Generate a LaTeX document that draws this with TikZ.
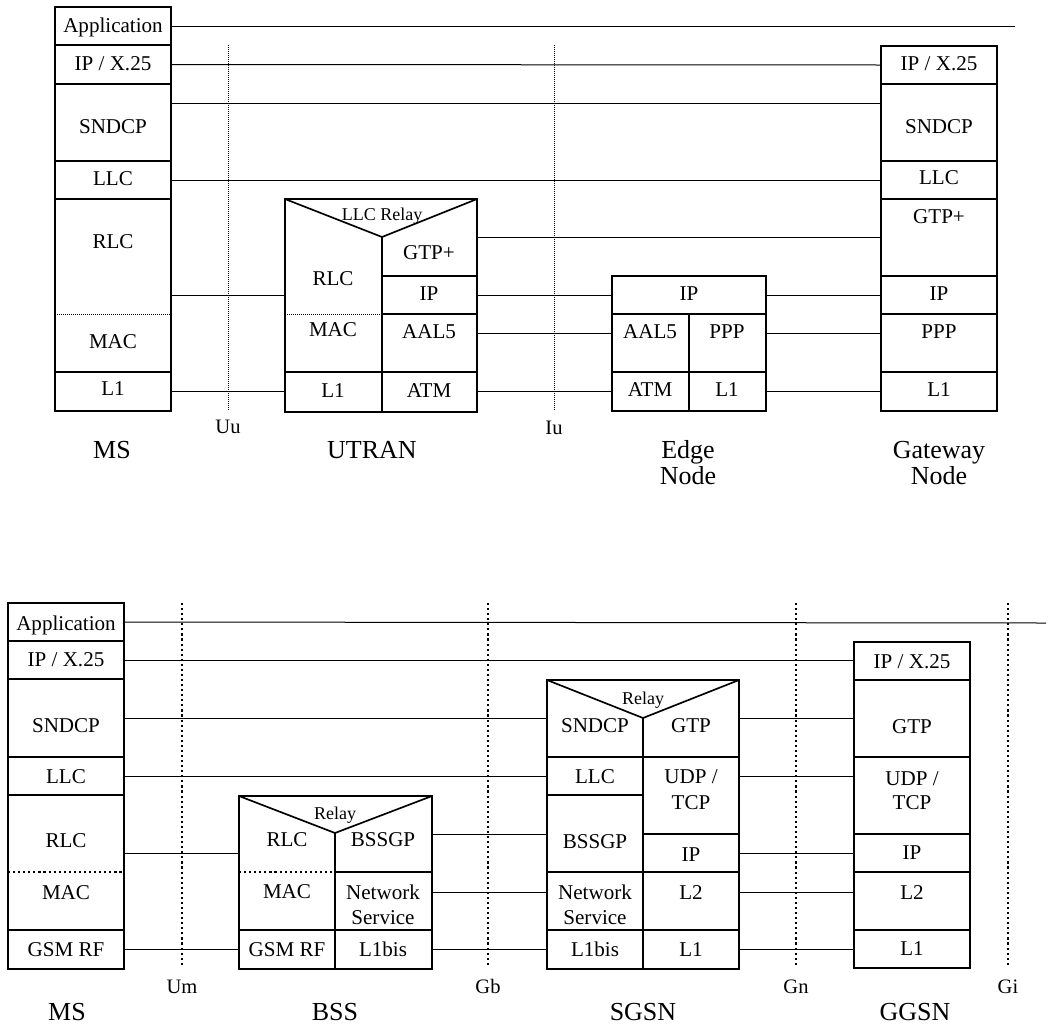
\documentclass[tikz,border=0pt]{standalone}
\usepackage{fontspec}
\setmainfont{Liberation Serif}
\usetikzlibrary{fit}
\tikzset{
  box/.style={draw, line width=1.25pt, inner sep=0pt, outer sep=0pt},
  vline/.style={line width=1.25pt},
  txt/.style={inner sep=0pt, anchor=base, yshift=-5.2pt, font=\fontsize{15.8}{18}\selectfont},
  lbl/.style={inner sep=0pt, anchor=base, yshift=-6.45pt, font=\fontsize{19.5}{22}\selectfont},
  iflbl/.style={inner sep=0pt, anchor=base, yshift=-5.1pt, font=\fontsize{15.4}{18}\selectfont},
  relaytxt/.style={inner sep=0pt, anchor=base, yshift=-4.5pt, font=\fontsize{13.5}{16}\selectfont},
  link/.style={line width=0.75pt},
  fdot/.style={line width=0.6pt, dash pattern=on 0.75pt off 0.75pt},
  bdot/.style={line width=1.1pt, dash pattern=on 1.6pt off 2.2pt},
}
\newcommand{\mycell}[5]{\node[box, fit={(#2,#3)(#4,#5)}] (#1) {};}
\begin{document}
\begin{tikzpicture}[x=0.75pt,y=-0.75pt]
\useasboundingbox (0,0) rectangle (1053,1025);

% ================= TOP DIAGRAM =================
% MS
\mycell{tmsApp}{55}{7}{171}{45}
\mycell{tmsIP}{55}{45}{171}{84}
\mycell{tmsSN}{55}{84}{171}{161}
\mycell{tmsLLC}{55}{161}{171}{199}
\mycell{tmsRM}{55}{199}{171}{372}
\mycell{tmsL1}{55}{372}{171}{411}
\draw[fdot] (55,314) -- (171,314);
\node[txt] (tmsAppT) at (113,26) {Application};
\node[txt] (tmsIPT) at (113,64) {IP / X.25};
\node[txt] (tmsSNT) at (113,127) {SNDCP};
\node[txt] (tmsLLCT) at (113,179) {LLC};
\node[txt] (tmsRLCT) at (113,242) {RLC};
\node[txt] (tmsMACT) at (113,342) {MAC};
\node[txt] (tmsL1T) at (113,389) {L1};

% UTRAN
\mycell{tut}{285}{199}{477}{412}
\draw[vline] (tut.north west) -- (382,237) -- (tut.north east);
\draw[vline] (382,237) -- (382,412);
\draw[vline] (382,276) -- (477,276);
\draw[vline] (382,314) -- (477,314);
\draw[vline] (285,372) -- (477,372);
\draw[fdot] (285,314) -- (382,314);
\node[relaytxt] (tutRelay) at (382,214) {LLC Relay};
\node[txt] (tutRLC) at (333,279) {RLC};
\node[txt] (tutMAC) at (333,330) {MAC};
\node[txt] (tutL1) at (333,391) {L1};
\node[txt] (tutGTP) at (429,253) {GTP+};
\node[txt] (tutIP) at (429,294) {IP};
\node[txt] (tutAAL) at (429,332) {AAL5};
\node[txt] (tutATM) at (429,391) {ATM};

% Edge node
\mycell{ted}{612}{276}{766}{411}
\draw[vline] (612,314) -- (766,314);
\draw[vline] (612,372) -- (766,372);
\draw[vline] (689,314) -- (689,411);
\node[txt] (tedIP) at (689,294) {IP};
\node[txt] (tedAAL) at (650,332) {AAL5};
\node[txt] (tedPPP) at (727,332) {PPP};
\node[txt] (tedATM) at (650,390) {ATM};
\node[txt] (tedL1) at (727,390) {L1};

% Gateway node
\mycell{tgwIP}{881}{46}{997}{84}
\mycell{tgwSN}{881}{84}{997}{161}
\mycell{tgwLLC}{881}{161}{997}{199}
\mycell{tgwGTP}{881}{199}{997}{276}
\mycell{tgwIPb}{881}{276}{997}{314}
\mycell{tgwPPP}{881}{314}{997}{372}
\mycell{tgwL1}{881}{372}{997}{411}
\node[txt] (tgwIPT) at (939,64) {IP / X.25};
\node[txt] (tgwSNT) at (939,127) {SNDCP};
\node[txt] (tgwLLCT) at (939,178) {LLC};
\node[txt] (tgwGTPT) at (939,217) {GTP+};
\node[txt] (tgwIPbT) at (939,294) {IP};
\node[txt] (tgwPPPT) at (939,332) {PPP};
\node[txt] (tgwL1T) at (939,390) {L1};

% levels and free ends
\coordinate (tAppEnd) at (1015,26);
\coordinate (lvSN) at (0,103);
\coordinate (lvIP) at (0,295);
\coordinate (lvAAL) at (0,333);

% connectors top
\draw[link] (tmsApp.east) -- (tAppEnd);
\draw[link] (tmsIP.east) -- (tgwIP.west);
\draw[link] (tmsSN.east |- lvSN) -- (tgwSN.west |- lvSN);
\draw[link] (tmsLLC.east) -- (tgwLLC.west);
\draw[link] (tmsRM.east |- lvIP) -- (tut.west |- lvIP);
\draw[link] (tmsL1.east) -- (tut.west |- tmsL1.east);
\draw[link] (tut.east |- tgwGTP.west) -- (tgwGTP.west);
\draw[link] (tut.east |- lvIP) -- (ted.west |- lvIP);
\draw[link] (ted.east |- lvIP) -- (tgwIPb.west |- lvIP);
\draw[link] (tut.east |- lvAAL) -- (ted.west |- lvAAL);
\draw[link] (ted.east |- lvAAL) -- (tgwPPP.west |- lvAAL);
\draw[link] (tut.east |- tgwL1.west) -- (ted.west |- tgwL1.west);
\draw[link] (ted.east |- tgwL1.west) -- (tgwL1.west);

% interfaces top
\coordinate (uuTop) at (228,45);
\coordinate (uuBot) at (228,410);
\coordinate (iuTop) at (554,45);
\coordinate (iuBot) at (554,410);
\draw[fdot] (uuTop) -- (uuBot);
\draw[fdot] (iuTop) -- (iuBot);
\node[iflbl] (uuL) at (228,427) {Uu};
\node[iflbl] (iuL) at (554,428) {Iu};

% labels top
\node[lbl] (tMS) at (112,450) {MS};
\node[lbl] (tUTRAN) at (372,450) {UTRAN};
\node[lbl] (tEdge1) at (688,450) {Edge};
\node[lbl] (tEdge2) at (688,476) {Node};
\node[lbl] (tGw1) at (939,450) {Gateway};
\node[lbl] (tGw2) at (939,476) {Node};

% ================= BOTTOM DIAGRAM =================
% MS
\mycell{bmsApp}{8}{603}{124}{641}
\mycell{bmsIP}{8}{641}{124}{679}
\mycell{bmsSN}{8}{679}{124}{757}
\mycell{bmsLLC}{8}{757}{124}{795}
\mycell{bmsRM}{8}{795}{124}{930}
\mycell{bmsRF}{8}{930}{124}{969}
\draw[bdot] (8,872) -- (124,872);
\node[txt] (bmsAppT) at (66,624) {Application};
\node[txt] (bmsIPT) at (66,660) {IP / X.25};
\node[txt] (bmsSNT) at (66,726) {SNDCP};
\node[txt] (bmsLLCT) at (66,777) {LLC};
\node[txt] (bmsRLCT) at (66,841) {RLC};
\node[txt] (bmsMACT) at (66,893) {MAC};
\node[txt] (bmsRFT) at (66,950) {GSM RF};

% BSS
\mycell{bss}{239}{796}{432}{969}
\draw[vline] (bss.north west) -- (335,833) -- (bss.north east);
\draw[vline] (335,833) -- (335,969);
\draw[vline] (335,872) -- (432,872);
\draw[bdot] (239,872) -- (335,872);
\draw[vline] (239,930) -- (432,930);
\node[relaytxt] (bssRelay) at (335,813) {Relay};
\node[txt] (bssRLC) at (287,840) {RLC};
\node[txt] (bssMAC) at (287,892) {MAC};
\node[txt] (bssRF) at (287,950) {GSM RF};
\node[txt] (bssBSSGP) at (383,840) {BSSGP};
\node[txt] (bssNS1) at (383,893) {Network};
\node[txt] (bssNS2) at (383,918) {Service};
\node[txt] (bssL1) at (383,950) {L1bis};

% SGSN
\mycell{sgsn}{547}{680}{739}{969}
\draw[vline] (sgsn.north west) -- (643,718) -- (sgsn.north east);
\draw[vline] (643,718) -- (643,969);
\draw[vline] (547,757) -- (739,757);
\draw[vline] (547,795) -- (643,795);
\draw[vline] (643,834) -- (739,834);
\draw[vline] (547,872) -- (739,872);
\draw[vline] (547,930) -- (739,930);
\node[relaytxt] (sgRelay) at (643,698) {Relay};
\node[txt] (sgSN) at (595,726) {SNDCP};
\node[txt] (sgGTP) at (691,726) {GTP};
\node[txt] (sgLLC) at (595,777) {LLC};
\node[txt] (sgUDP1) at (691,777) {UDP /};
\node[txt] (sgUDP2) at (691,803) {TCP};
\node[txt] (sgBSSGP) at (595,842) {BSSGP};
\node[txt] (sgIP) at (691,855) {IP};
\node[txt] (sgNS1) at (595,893) {Network};
\node[txt] (sgNS2) at (595,918) {Service};
\node[txt] (sgL2) at (691,893) {L2};
\node[txt] (sgL1bis) at (595,950) {L1bis};
\node[txt] (sgL1) at (691,950) {L1};

% GGSN
\mycell{ggIP}{854}{642}{970}{680}
\mycell{ggGTP}{854}{680}{970}{757}
\mycell{ggUDP}{854}{757}{970}{834}
\mycell{ggIPb}{854}{834}{970}{872}
\mycell{ggL2}{854}{872}{970}{930}
\mycell{ggL1}{854}{930}{970}{968}
\node[txt] (ggIPT) at (912,662) {IP / X.25};
\node[txt] (ggGTPT) at (912,727) {GTP};
\node[txt] (ggUDP1) at (912,779) {UDP /};
\node[txt] (ggUDP2) at (912,803) {TCP};
\node[txt] (ggIPbT) at (912,853) {IP};
\node[txt] (ggL2T) at (912,893) {L2};
\node[txt] (ggL1T) at (912,949) {L1};

% levels
\coordinate (bAppEnd) at (1046,623);
\coordinate (lvB1) at (0,718);
\coordinate (lvB3) at (0,853);
\coordinate (lvB4) at (0,834);
\coordinate (lvB5) at (0,892);

% connectors bottom
\draw[link] (bmsApp.east) -- (bAppEnd);
\draw[link] (bmsIP.east) -- (ggIP.west |- bmsIP.east);
\draw[link] (bmsSN.east |- lvB1) -- (sgsn.west |- lvB1);
\draw[link] (bmsLLC.east) -- (sgsn.west |- bmsLLC.east);
\draw[link] (bmsRM.east |- lvB3) -- (bss.west |- lvB3);
\draw[link] (bmsRF.east) -- (bss.west |- bmsRF.east);
\draw[link] (bss.east |- lvB4) -- (sgsn.west |- lvB4);
\draw[link] (bss.east |- lvB5) -- (sgsn.west |- lvB5);
\draw[link] (bss.east |- bmsRF.east) -- (sgsn.west |- bmsRF.east);
\draw[link] (sgsn.east |- lvB1) -- (ggGTP.west |- lvB1);
\draw[link] (sgsn.east |- bmsLLC.east) -- (ggUDP.west |- bmsLLC.east);
\draw[link] (sgsn.east |- ggIPb.west) -- (ggIPb.west);
\draw[link] (sgsn.east |- lvB5) -- (ggL2.west |- lvB5);
\draw[link] (sgsn.east |- ggL1.west) -- (ggL1.west);

% interfaces bottom
\coordinate (umTop) at (182,603);  \coordinate (umBot) at (182,967);
\coordinate (gbTop) at (488,603);  \coordinate (gbBot) at (488,967);
\coordinate (gnTop) at (796,603);  \coordinate (gnBot) at (796,967);
\coordinate (giTop) at (1008,603); \coordinate (giBot) at (1008,967);
\draw[bdot] (umTop) -- (umBot);
\draw[bdot] (gbTop) -- (gbBot);
\draw[bdot] (gnTop) -- (gnBot);
\draw[bdot] (giTop) -- (giBot);
\node[iflbl] (umL) at (182,987) {Um};
\node[iflbl] (gbL) at (488,987) {Gb};
\node[iflbl] (gnL) at (796,987) {Gn};
\node[iflbl] (giL) at (1008,987) {Gi};

% labels bottom
\node[lbl] (bMS) at (67,1012) {MS};
\node[lbl] (bBSS) at (335,1012) {BSS};
\node[lbl] (bSGSN) at (643,1012) {SGSN};
\node[lbl] (bGGSN) at (915,1012) {GGSN};
\end{tikzpicture}
\end{document}
